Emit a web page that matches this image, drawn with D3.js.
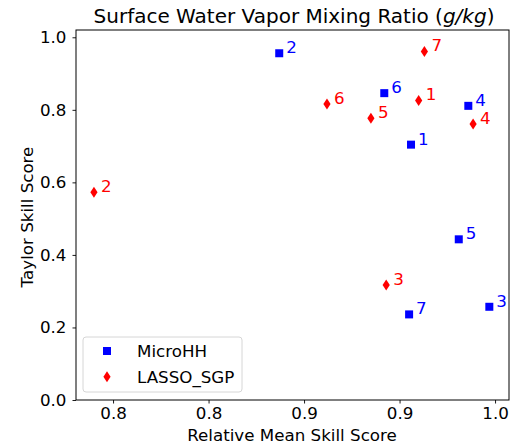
<!DOCTYPE html>
<html>
<head>
<meta charset="utf-8">
<script src="https://cdn.jsdelivr.net/npm/d3@7"></script>
<style>
body { margin: 0; background: #fff; }
text { font-family: "DejaVu Sans", sans-serif; }
</style>
</head>
<body>
<svg id="chart" width="514" height="447"></svg>
<script>
// point labels (run numbers)
var runs = ['1', '2', '3', '4', '5', '6', '7'];
// MicroHH scores
var microX = [0.956, 0.887, 0.997, 0.986, 0.981, 0.942, 0.955];
var microY = [0.704, 0.956, 0.257, 0.811, 0.443, 0.846, 0.236];
// LASSO_SGP scores
var lassoX = [0.960, 0.790, 0.943, 0.9885, 0.935, 0.912, 0.963];
var lassoY = [0.826, 0.573, 0.317, 0.761, 0.777, 0.816, 0.961];
// axis ticks
var xTicks = [0.80, 0.85, 0.90, 0.95, 1.00];
var yTicks = [0.0, 0.2, 0.4, 0.6, 0.8, 1.0];

var svg = d3.select('#chart');
var m_left = 76, m_right = 509, m_top = 30, m_bottom = 400;
var fs = '16.7px';

var x = d3.scaleLinear().domain([0.7806, 1.0073]).range([m_left, m_right]);
var y = d3.scaleLinear().domain([0, 1.0201]).range([m_bottom, m_top]);

//axes
var xAxis = svg.append('g')
	.attr('transform', 'translate(0,' + m_bottom + ')')
	.call(d3.axisBottom(x).tickValues(xTicks).tickSize(3.5).tickPadding(3.5)
		.tickFormat(d => (Math.round(d * 10 - 1e-9) / 10).toFixed(1)));
var yAxis = svg.append('g')
	.attr('transform', 'translate(' + m_left + ',0)')
	.call(d3.axisLeft(y).tickValues(yTicks).tickSize(3.5).tickPadding(6)
		.tickFormat(d3.format('.1f')));
[xAxis, yAxis].forEach(function(a) {
	a.select('.domain').remove();
	a.selectAll('line').attr('stroke', '#000').attr('stroke-width', 0.9);
	a.selectAll('text').attr('fill', '#000').style('font-size', fs)
		.style('font-family', '"DejaVu Sans", sans-serif');
});

//frame
svg.append('rect')
	.attr('x', m_left).attr('y', m_top)
	.attr('width', m_right - m_left).attr('height', m_bottom - m_top)
	.attr('fill', 'none').attr('stroke', '#000').attr('stroke-width', 1);

//data series
var series = [
	{name: 'MicroHH', xs: microX, ys: microY, color: '#0000ff', sym: 'square'},
	{name: 'LASSO_SGP', xs: lassoX, ys: lassoY, color: '#ff0000', sym: 'diamond'}
];

function marker(g, sym, color) {
	if(sym === 'square') {
		g.append('rect').attr('x', -4).attr('y', -4).attr('width', 8).attr('height', 8)
			.attr('fill', color);
	} else {
		g.append('path').attr('d', 'M0,-5.5L3.6,0L0,5.5L-3.6,0Z').attr('fill', color);
	}
}

series.forEach(function(s) {
	var g = svg.append('g');
	runs.forEach(function(r, i) {
		var pg = g.append('g')
			.attr('transform', 'translate(' + x(s.xs[i]) + ',' + y(s.ys[i]) + ')');
		marker(pg, s.sym, s.color);
		pg.append('text').attr('x', 7).attr('y', 0)
			.attr('fill', s.color).style('font-size', fs).text(r);
	});
});

//legend
var lg = svg.append('g');
lg.append('rect')
	.attr('x', 83).attr('y', 337).attr('width', 159).attr('height', 55)
	.attr('rx', 3).attr('fill', '#fff').attr('stroke', '#d6d6d6');
series.forEach(function(s, i) {
	var ly = 351 + i * 25.7;
	var mg = lg.append('g').attr('transform', 'translate(107,' + ly + ')');
	marker(mg, s.sym, s.color);
	lg.append('text').attr('x', 137).attr('y', ly + 6)
		.style('font-size', fs).attr('fill', '#000').text(s.name);
});

//title and labels
var title = svg.append('text')
	.attr('x', 294).attr('y', 23).attr('text-anchor', 'middle')
	.style('font-size', '20px').attr('fill', '#000');
title.append('tspan').text('Surface Water Vapor Mixing Ratio (');
title.append('tspan').style('font-style', 'italic').text('g/kg');
title.append('tspan').text(')');

svg.append('text')
	.attr('x', 292).attr('y', 441).attr('text-anchor', 'middle')
	.style('font-size', fs).attr('fill', '#000')
	.text('Relative Mean Skill Score');

svg.append('text')
	.attr('transform', 'translate(33,' + ((m_top + m_bottom) / 2 + 2) + ') rotate(-90)')
	.attr('text-anchor', 'middle')
	.style('font-size', fs).attr('fill', '#000')
	.text('Taylor Skill Score');
</script>
</body>
</html>
